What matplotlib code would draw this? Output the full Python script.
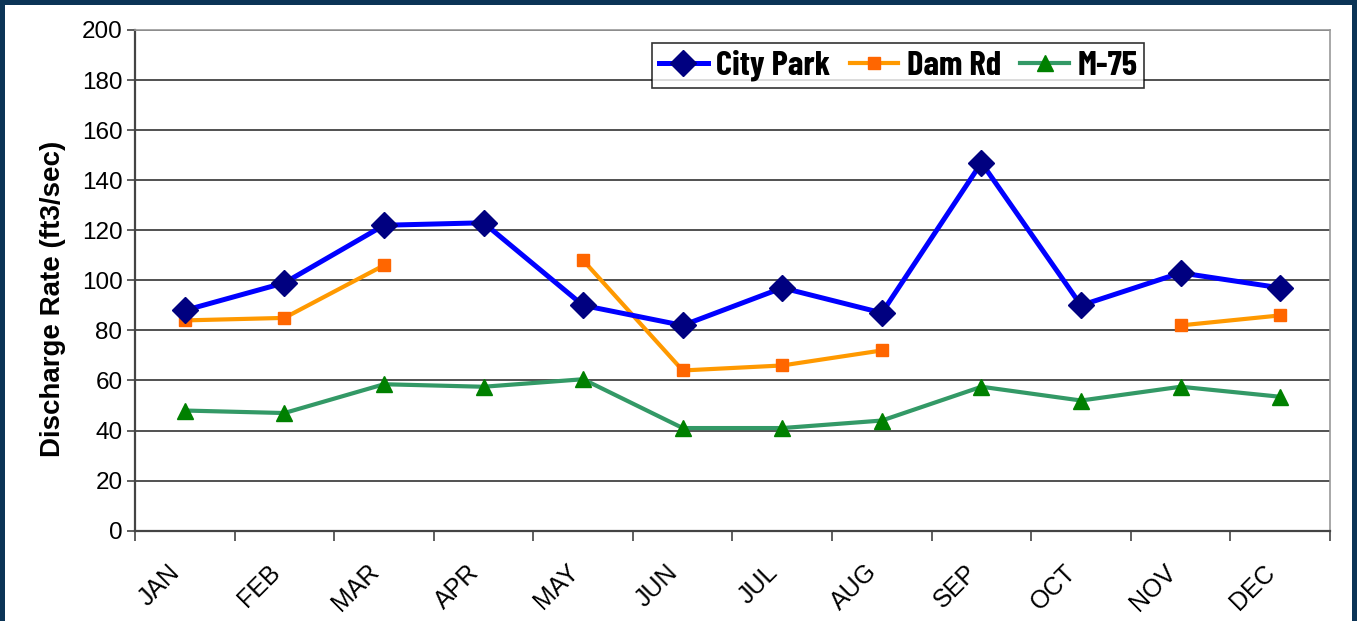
import matplotlib.pyplot as plt
import matplotlib.patches as mpatches
import matplotlib.transforms as mtransforms
import numpy as np

months = ['JAN', 'FEB', 'MAR', 'APR', 'MAY', 'JUN', 'JUL', 'AUG', 'SEP', 'OCT', 'NOV', 'DEC']
city_park = [88, 99, 122, 123, 90, 82, 97, 87, 147, 90, 103, 97]
dam_rd = [84, 85, 106, np.nan, 108, 64, 66, 72, np.nan, np.nan, 82, 86]
m75 = [48, 47, 58.5, 57.5, 60.5, 41, 41, 44, 57.5, 52, 57.5, 53.5]
y_ticks = list(range(0, 201, 20))

plt.rcParams['font.family'] = ['Liberation Sans', 'DejaVu Sans']

fig = plt.figure(figsize=(13.57, 6.21), dpi=100)
fig.patch.set_facecolor('#0b3456')
# white panel inside the dark frame
fig.add_artist(mpatches.Rectangle((5 / 1357, 0), 1347 / 1357, 1 - 5 / 621,
                                  transform=fig.transFigure, facecolor='white',
                                  edgecolor='none', zorder=-1))

ax = fig.add_axes([135 / 1357, 90.3 / 621, 1195 / 1357, 500.7 / 621])
ax.set_facecolor('white')
x = np.arange(len(months))

ax.plot(x, city_park, color='#0000FF', lw=3.6, marker='D', ms=13,
        mfc='#000080', mec='#000080', label='City Park', zorder=5)
ax.plot(x, dam_rd, color='#FF9900', lw=3, marker='s', ms=9,
        mfc='#FF6600', mec='#FF6600', label='Dam Rd', zorder=4)
ax.plot(x, m75, color='#339966', lw=3, marker='^', ms=11,
        mfc='#008000', mec='#008000', label='M-75', zorder=3)

ax.set_xlim(-0.5, 11.5)
ax.set_ylim(0, 200)
ax.set_yticks(y_ticks)
ax.yaxis.grid(True, color='#222222', lw=1.1)
ax.set_axisbelow(True)
ax.tick_params(axis='y', labelsize=17.5, length=6, width=1.2, color='#444444', pad=3)

ax.set_xticks(np.arange(-0.5, 12, 1))
ax.set_xticklabels([])
ax.tick_params(axis='x', which='major', length=7, width=1.2, color='#444444')
ax.set_xticks(x, minor=True)
ax.set_xticklabels(months, minor=True, rotation=45, ha='right',
                   rotation_mode='anchor', fontsize=18)
ax.tick_params(axis='x', which='minor', length=0, pad=21)
shift = mtransforms.ScaledTranslation(-17 / 100, 0, fig.dpi_scale_trans)
for lab in ax.get_xticklabels(minor=True):
    lab.set_transform(lab.get_transform() + shift)

for s in ['left', 'bottom']:
    ax.spines[s].set_color('#444444')
    ax.spines[s].set_linewidth(1.6)
for s in ['top', 'right']:
    ax.spines[s].set_color('#999999')
    ax.spines[s].set_linewidth(1.2)

ax.set_ylabel('Discharge Rate (ft3/sec)', fontsize=20, fontweight='bold')
ax.yaxis.set_label_coords(-0.058, 0.463)

leg = ax.legend(loc='upper left', bbox_to_anchor=((652 - 135) / 1195, (530.7 - 43) / 500.7),
                ncol=3,
                prop={'family': ['Barlow Condensed', 'DejaVu Sans'],
                      'weight': 'bold', 'size': 25},
                frameon=True, fancybox=False, handlelength=1.4, handletextpad=0.25,
                columnspacing=0.55, borderpad=0.2, borderaxespad=0)
leg.get_frame().set_edgecolor('black')
leg.get_frame().set_linewidth(1.2)

fig.savefig('out.png', dpi=100, facecolor=fig.get_facecolor())
